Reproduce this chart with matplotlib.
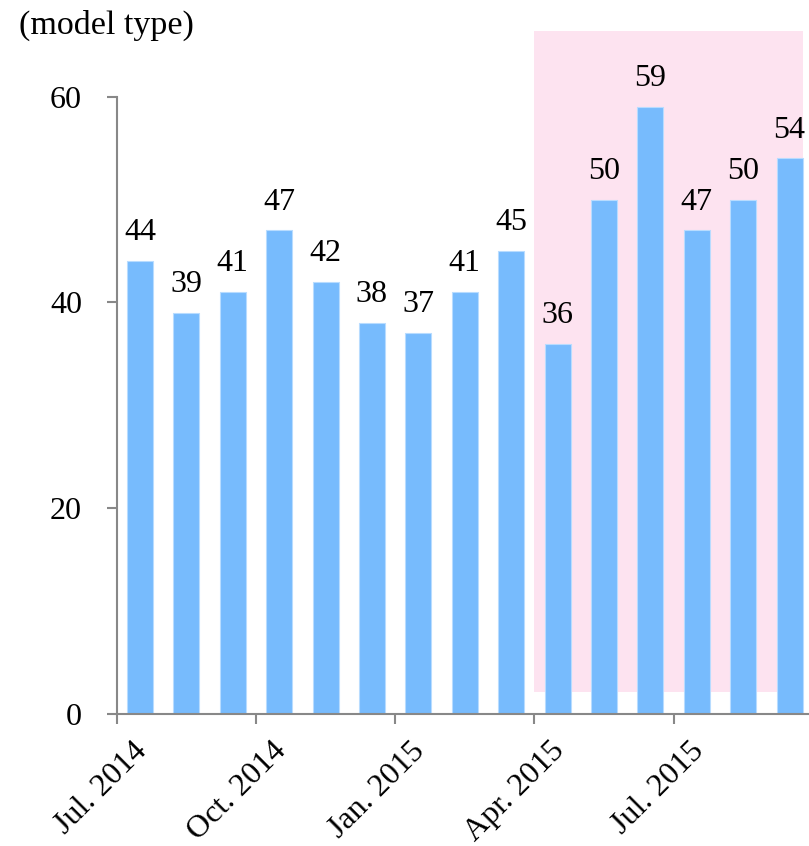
import matplotlib
matplotlib.use("Agg")
import matplotlib.pyplot as plt
from matplotlib.patches import Rectangle

plt.rcParams['font.family'] = ['Liberation Serif', 'DejaVu Serif']

# data
months = ["Jul. 2014", "Aug. 2014", "Sep. 2014", "Oct. 2014", "Nov. 2014",
          "Dec. 2014", "Jan. 2015", "Feb. 2015", "Mar. 2015", "Apr. 2015",
          "May 2015", "Jun. 2015", "Jul. 2015", "Aug. 2015", "Sep. 2015"]
counts = [44, 39, 41, 47, 42, 38, 37, 41, 45, 36, 50, 59, 47, 50, 54]
tick_labels = ["Jul. 2014", "Oct. 2014", "Jan. 2015", "Apr. 2015", "Jul. 2015"]
highlight_start = "Apr. 2015"

bar_color = "#77BBFD"
pink = "#FDE3F0"
axis_gray = "#888888"
fs = 23

fig = plt.figure(figsize=(8.09, 8.46), dpi=100)
ax = fig.add_axes([0.1443, 0.156, 0.8603, 0.7297])

x = [i + 0.5 for i in range(len(months))]

# shaded period (behind the bars, goes above the axes)
hs = months.index(highlight_start)
ax.add_patch(Rectangle((hs, 2.1), len(months) - hs - 0.22, 64.3,
                       facecolor=pink, edgecolor="none", zorder=0, clip_on=False))

ax.bar(x, counts, width=0.56, color=bar_color, edgecolor="#B8DCFF",
       linewidth=0.8, zorder=2)

for xi, v in zip(x, counts):
    ax.annotate(str(v), (xi, v), xytext=(0, 10), textcoords="offset points",
                ha="center", va="bottom", fontsize=fs, clip_on=False, zorder=3)

ax.set_xlim(0, len(months))
ax.set_ylim(0, 60)
ax.set_yticks([0, 20, 40, 60])
tick_pos = [months.index(t) for t in tick_labels]
ax.set_xticks(tick_pos)
ax.set_xticklabels([])
# rotated month labels, shifted right of their ticks
for tp, lab in zip(tick_pos, tick_labels):
    ax.annotate(lab, (tp, 0), xycoords=("data", "axes fraction"),
                xytext=(18.5, -23.5), textcoords="offset points",
                rotation=45, ha="right", va="center", rotation_mode="anchor",
                fontsize=fs)

for s in ["top", "right"]:
    ax.spines[s].set_visible(False)
for s in ["left", "bottom"]:
    ax.spines[s].set_color(axis_gray)
    ax.spines[s].set_linewidth(1.5)
ax.tick_params(axis="both", colors=axis_gray, labelcolor="black",
               labelsize=fs, length=7, width=1.5, direction="out")
ax.tick_params(axis="y", pad=18)

fig.text(0.024, 0.97, "(model type)", fontsize=24.5, ha="left", va="center")

fig.savefig("out.png", dpi=100)
